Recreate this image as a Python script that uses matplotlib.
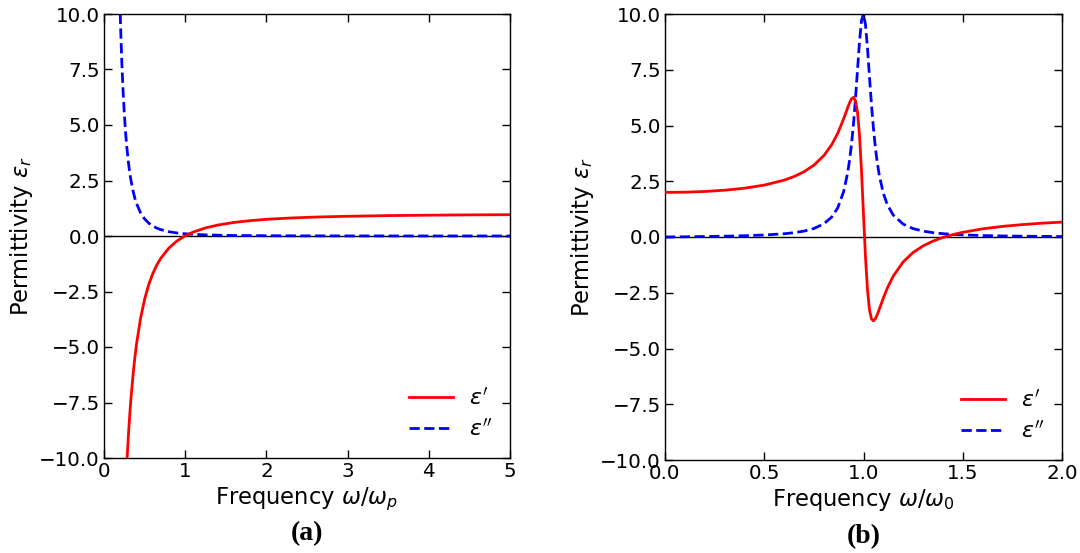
import matplotlib
matplotlib.use("Agg")
import matplotlib.pyplot as plt

# Panel (a): Drude-like response
w_a = [0.18, 0.20, 0.21, 0.22, 0.235, 0.25, 0.265, 0.28, 0.30, 0.32, 0.33, 0.36, 0.38,
       0.40, 0.45, 0.50, 0.55, 0.60, 0.65, 0.70, 0.80, 0.90, 1.00, 1.10, 1.25, 1.40,
       1.60, 1.80, 2.00, 2.30, 2.60, 3.00, 3.50, 4.00, 4.50, 5.00]
eps1_a = [-22.58, -19.0, -17.48, -16.12, -14.33, -12.79, -11.46, -10.31, -9.0, -7.90, -7.41,
          -6.16, -5.48, -4.88, -3.71, -2.85, -2.20, -1.70, -1.31, -1.00, -0.538, -0.220,
          0.010, 0.180, 0.364, 0.492, 0.611, 0.692, 0.751, 0.811, 0.852, 0.889, 0.918,
          0.938, 0.951, 0.960]
eps2_a = [13.10, 10.0, 8.80, 7.78, 6.52, 5.52, 4.70, 4.04, 3.33, 2.78, 2.55, 1.99, 1.70,
          1.47, 1.046, 0.769, 0.582, 0.450, 0.356, 0.286, 0.192, 0.136, 0.099, 0.075,
          0.051, 0.036, 0.024, 0.017, 0.0125, 0.0082, 0.0057, 0.0037, 0.0023, 0.0016,
          0.0011, 0.0008]

# Panel (b): Lorentz-like response
w_b = [0.0, 0.1, 0.2, 0.3, 0.4, 0.5, 0.6, 0.65, 0.7, 0.75, 0.8, 0.84, 0.87, 0.9, 0.92,
       0.93, 0.94, 0.95, 0.96, 0.97, 0.98, 0.99, 1.0, 1.01, 1.02, 1.03, 1.04, 1.05, 1.06,
       1.07, 1.08, 1.1, 1.12, 1.15, 1.2, 1.25, 1.3, 1.35, 1.4, 1.45, 1.5, 1.6, 1.7, 1.8,
       1.9, 2.0]
eps1_b = [2.0, 2.010, 2.041, 2.098, 2.188, 2.327, 2.549, 2.710, 2.925, 3.220, 3.647, 4.141,
          4.646, 5.299, 5.792, 6.022, 6.200, 6.261, 6.103, 5.581, 4.545, 2.952, 1.0,
          -0.895, -2.357, -3.253, -3.670, -3.761, -3.662, -3.466, -3.228, -2.737, -2.293,
          -1.751, -1.115, -0.694, -0.400, -0.184, -0.020, 0.108, 0.211, 0.366, 0.475,
          0.556, 0.619, 0.668]
eps2_b = [0.0, 0.0102, 0.0217, 0.0362, 0.0566, 0.0885, 0.1452, 0.1925, 0.2642, 0.3807,
          0.5882, 0.8962, 1.305, 2.036, 2.870, 3.457, 4.199, 5.127, 6.249, 7.518, 8.772,
          9.709, 10.0, 9.524, 8.475, 7.194, 5.951, 4.877, 3.998, 3.298, 2.744, 1.957,
          1.450, 0.981, 0.577, 0.3765, 0.2637, 0.1943, 0.1487, 0.1173, 0.0946, 0.0651,
          0.0472, 0.0356, 0.0277, 0.0221]

yticks = [-10.0, -7.5, -5.0, -2.5, 0.0, 2.5, 5.0, 7.5, 10.0]

plt.rcParams['font.family'] = ['DejaVu Sans']
plt.rcParams['mathtext.fontset'] = 'dejavusans'

fig = plt.figure(figsize=(10.8, 5.53), dpi=100)
ax1 = fig.add_axes([104/1080, 95/553, 406/1080, 444/553])
ax2 = fig.add_axes([665/1080, 93/553, 397/1080, 446/553])

panels = [
    (ax1, w_a, eps1_a, eps2_a, (0, 5), [0, 1, 2, 3, 4, 5], r"Frequency $\omega/\omega_p$", "(a)"),
    (ax2, w_b, eps1_b, eps2_b, (0, 2), [0.0, 0.5, 1.0, 1.5, 2.0], r"Frequency $\omega/\omega_0$", "(b)"),
]

for ax, w, e1, e2, xl, xt, xlab, tag in panels:
    ax.axhline(0, color='black', lw=1.0, zorder=1)
    ax.plot(w, e1, color='red', lw=2.0, label=r"$\varepsilon'$", zorder=3)
    ax.plot(w, e2, color='blue', lw=2.0, ls='--', label=r"$\varepsilon''$", zorder=2)
    ax.set_xlim(*xl)
    ax.set_ylim(-10, 10)
    ax.set_xticks(xt)
    if tag == "(b)":
        ax.set_xticklabels([f"{v:.1f}" for v in xt])
    ax.set_yticks(yticks)
    ax.set_yticklabels([f"{v:.1f}".replace('-', '\u2212') for v in yticks])
    ax.tick_params(direction='in', top=True, right=True, length=6, width=1,
                   labelsize=14.3, pad=3)
    for s in ax.spines.values():
        s.set_linewidth(1.0)
    ax.set_xlabel(xlab, fontsize=16.3, labelpad=3)
    ax.set_ylabel(r"Permittivity $\varepsilon_r$", fontsize=16.3, labelpad=3)
    ax.legend(loc='lower right', frameon=False, fontsize=16,
              handlelength=2.0, borderaxespad=0.4, labelspacing=0.45,
              handletextpad=0.7)
    ax.text(0.5, -0.143, tag, transform=ax.transAxes, ha='center', va='top',
            fontsize=20, fontweight='bold', family='Liberation Serif')

fig.savefig("out.png", dpi=100)
